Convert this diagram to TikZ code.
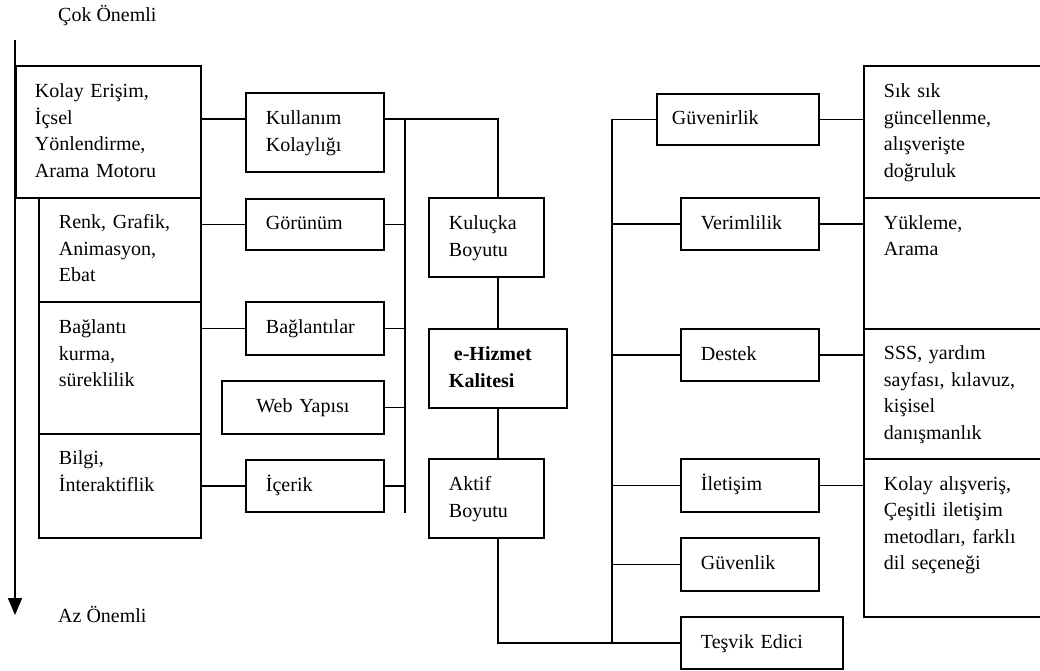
\documentclass[tikz,border=0pt]{standalone}
\usepackage{fontspec}
\setmainfont{Liberation Serif}
\usetikzlibrary{arrows.meta}

\tikzset{
  kutu/.style={draw, line width=1.9pt, anchor=north west, inner xsep=20pt, inner ysep=0pt,
    align=left, font=\fontsize{20}{26.5}\selectfont,
    execute at begin node=\strut, execute at end node=\strut},
  cizgi/.style={line width=1.9pt},
  etiket/.style={anchor=base west, inner sep=0pt, font=\fontsize{20}{26.5}\selectfont}
}

\begin{document}
\begin{tikzpicture}[x=1pt, y=-1pt]
    \clip (0,0) rectangle (1040,670);

    % Önem ekseni
    \coordinate (eksen ust) at (15,40);
    \coordinate (eksen alt) at (15,615);
    \draw[cizgi, -{Triangle[width=14pt,length=17pt]}] (eksen ust) -- (eksen alt);
    \node[etiket] (cok) at (58,21) {Çok Önemli};
    \node[etiket] (az) at (58,622) {Az Önemli};

    % Sol sütun
    \node[kutu, inner xsep=19pt, text width=147pt, minimum height=132pt] (kolay) at (15,65)
        {Kolay Erişim,\\İçsel\\Yönlendirme,\\Arama Motoru};
    \node[kutu, text width=122pt, minimum height=104pt] (renk) at (38,197)
        {Renk, Grafik,\\Animasyon,\\Ebat};
    \node[kutu, text width=122pt, minimum height=132pt] (baglanti) at (38,301)
        {Bağlantı\\kurma,\\süreklilik\\};
    \node[kutu, text width=122pt, minimum height=104pt] (bilgi) at (38,433)
        {Bilgi,\\İnteraktiflik\\};

    % Kuluçka alt boyutları
    \node[kutu, text width=98pt, minimum height=79pt] (kullanim) at (245,92) {Kullanım\\Kolaylığı};
    \node[kutu, text width=98pt, minimum height=51pt] (gorunum) at (245,198) {Görünüm};
    \node[kutu, text width=98pt, minimum height=53pt] (baglantilar) at (245,301) {Bağlantılar};
    \node[kutu, align=center, text width=122pt, minimum height=53pt] (web) at (221,380) {Web Yapısı};
    \node[kutu, text width=98pt, minimum height=52pt] (icerik) at (245,459) {İçerik};

    % Orta sütun
    \node[kutu, text width=75pt, minimum height=79pt] (kulucka) at (428,197) {Kuluçka\\Boyutu};
    \node[kutu, text width=98pt, minimum height=79pt, font=\fontsize{20}{26.5}\selectfont\bfseries] (ehizmet) at (428,328)
        {\hspace*{5pt}e-Hizmet\\Kalitesi};
    \node[kutu, text width=75pt, minimum height=79pt] (aktif) at (428,458) {Aktif\\Boyutu};

    % Aktif alt boyutları
    \node[kutu, inner xsep=15pt, text width=132pt, minimum height=51pt] (guvenirlik) at (656,93) {Güvenirlik};
    \node[kutu, text width=98pt, minimum height=52pt] (verimlilik) at (680,197) {Verimlilik};
    \node[kutu, text width=98pt, minimum height=52pt] (destek) at (680,328) {Destek};
    \node[kutu, text width=98pt, minimum height=53pt] (iletisim) at (680,458) {İletişim};
    \node[kutu, text width=98pt, minimum height=53pt] (guvenlik) at (680,537) {Güvenlik};
    \node[kutu, text width=122pt, minimum height=52pt] (tesvik) at (680,616) {Teşvik Edici};

    % Sağ sütun
    \node[kutu, text width=139pt, minimum height=132pt] (sik) at (863,65)
        {Sık sık\\güncellenme,\\alışverişte\\doğruluk};
    \node[kutu, text width=139pt, minimum height=131pt] (yukleme) at (863,197)
        {Yükleme,\\Arama\\\strut\\};
    \node[kutu, text width=139pt, minimum height=130pt] (sss) at (863,328)
        {SSS, yardım\\sayfası, kılavuz,\\kişisel\\danışmanlık};
    \node[kutu, text width=139pt, minimum height=158pt] (alisveris) at (863,458)
        {Kolay alışveriş,\\Çeşitli iletişim\\metodları, farklı\\dil seçeneği\\};

    % Sol bağlantılar
    \coordinate (sol hat) at (405,119);
    \draw[cizgi] (kolay.east |- sol hat) -- (kullanim.west |- sol hat);
    \draw[cizgi] (renk.east |- gorunum.west) -- (gorunum.west);
    \draw[cizgi] (baglanti.east |- baglantilar.west) -- (baglantilar.west);
    \draw[cizgi] (bilgi.east |- icerik.west) -- (icerik.west);
    \draw[cizgi] (sol hat) -- (sol hat |- icerik.south);
    \draw[cizgi] (kullanim.east |- sol hat) -- (ehizmet.north |- sol hat) -- (ehizmet.north |- kulucka.north);
    \foreach \n in {gorunum, baglantilar, web, icerik}
        \draw[cizgi] (\n.east) -- (sol hat |- \n.east);

    % Orta bağlantılar
    \draw[cizgi] (ehizmet.north |- kulucka.south) -- (ehizmet.north);
    \draw[cizgi] (ehizmet.south) -- (ehizmet.south |- aktif.north);
    \draw[cizgi] (ehizmet.south |- aktif.south) -- (ehizmet.south |- tesvik.west) -- (tesvik.west);

    % Sağ bağlantılar
    \coordinate (sag hat) at (612,119);
    \draw[cizgi] (guvenirlik.west) -- (sag hat |- guvenirlik.west) -- (sag hat |- tesvik.west);
    \foreach \n in {verimlilik, destek, iletisim, guvenlik}
        \draw[cizgi] (sag hat |- \n.west) -- (\n.west);
    \foreach \a/\b in {guvenirlik/sik, verimlilik/yukleme, destek/sss, iletisim/alisveris}
        \draw[cizgi] (\a.east) -- (\b.west |- \a.east);
\end{tikzpicture}
\end{document}
